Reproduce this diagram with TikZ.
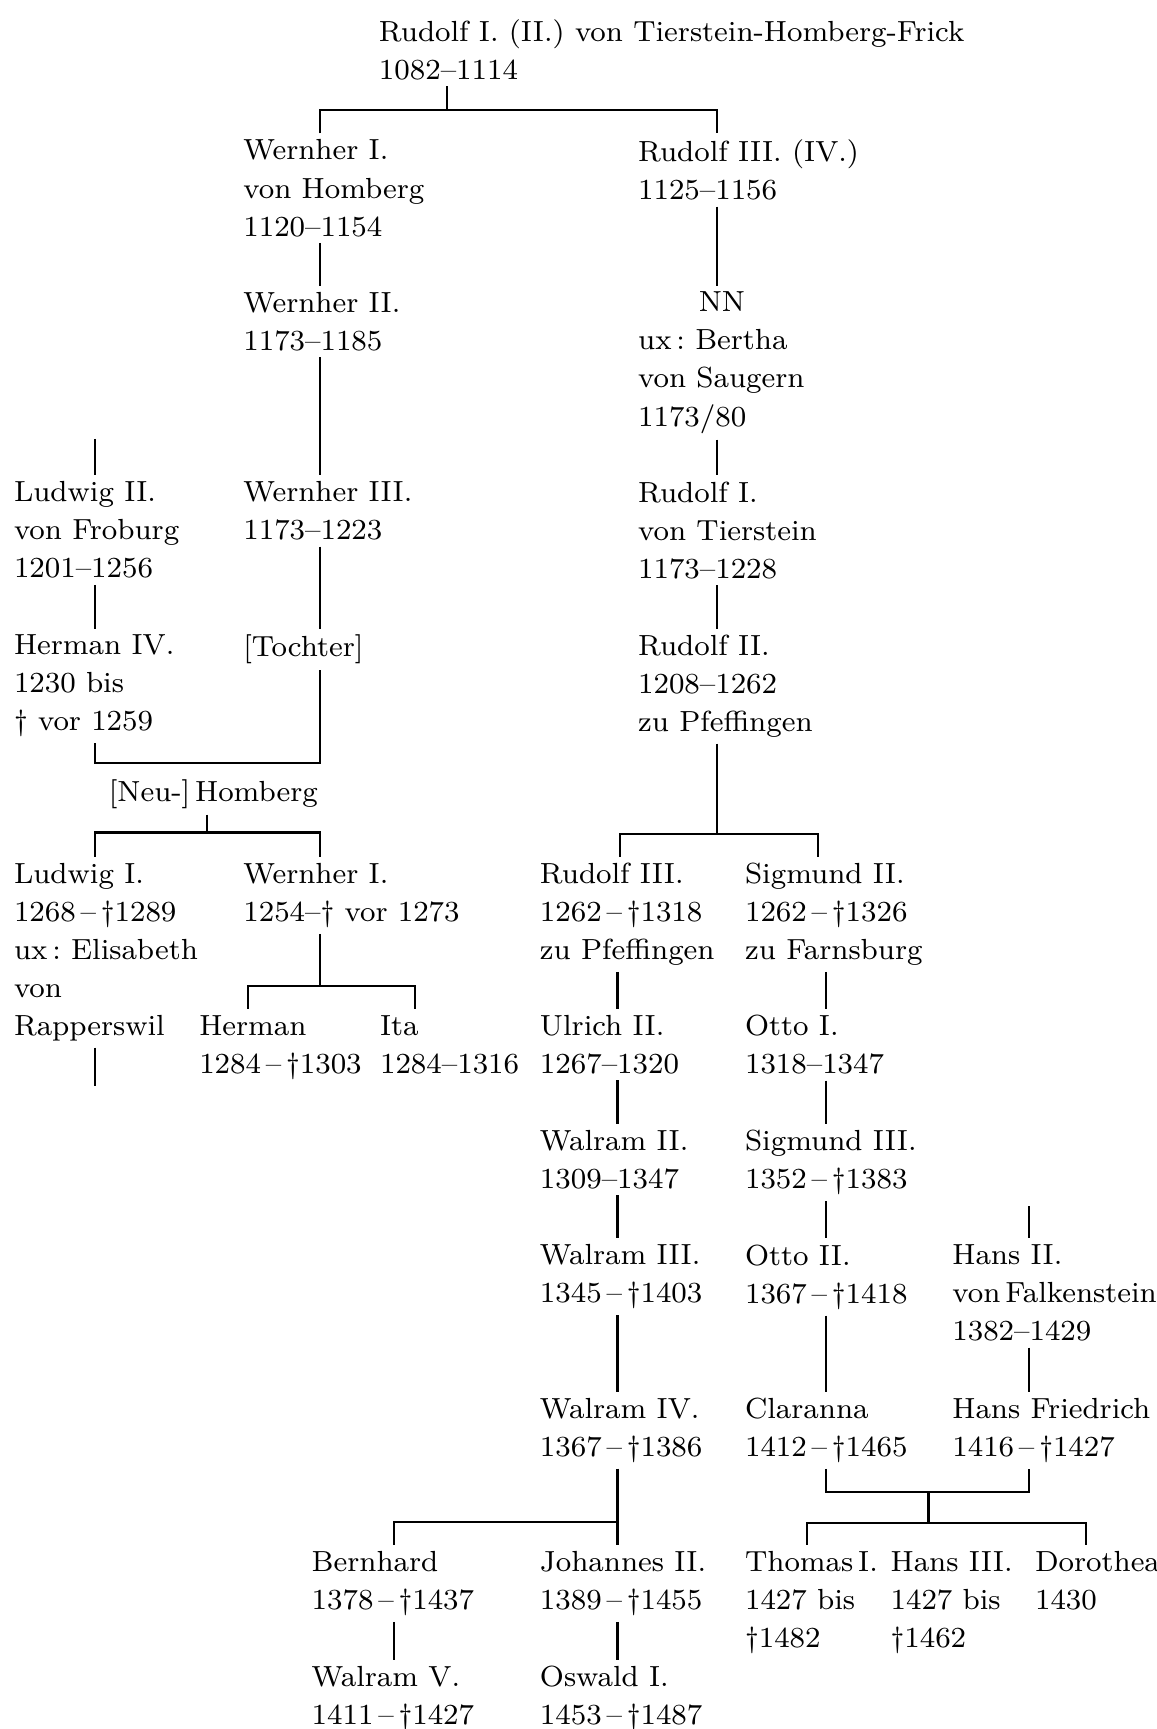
\documentclass[tikz,border=0pt]{standalone}
\usepackage{tikz}

\begin{document}
\begin{tikzpicture}[x=0.01cm, y=-0.01cm]
	\useasboundingbox (0,0) rectangle (1049,1568);
	\begin{scope}[every node/.style = {anchor=north west, align=left, inner xsep=0pt,
			inner ysep=0.05cm, font=\fontsize{7.5}{9.82}\selectfont\frenchspacing}]
		\node (top) at (343,12) {Rudolf I. (II.) von Tierstein-Homberg-Frick\\1082--1114};
		\node (wer1) at (220,121) {Wernher I.\\von Homberg\\1120--1154};
		\node (rud3) at (578,121) {Rudolf III. (IV.)\\1125--1156};
		\node (wer2) at (220,259) {Wernher II.\\1173--1185};
		\node (nn) at (578,259) {\hspace*{0.55cm}NN\\ux\,: Bertha\\von Saugern\\1173/80};
		\node (lud2) at (12,431) {Ludwig II.\\von Froburg\\1201--1256};
		\node (wer3) at (220,431) {Wernher III.\\1173--1223};
		\node (rud1) at (578,431) {Rudolf I.\\von Tierstein\\1173--1228};
		\node (her4) at (12,570) {Herman IV.\\1230 bis\\\dag{} vor 1259};
		\node (tochter) at (220,570) {[Tochter]};
		\node (rud2) at (578,570) {Rudolf II.\\1208--1262\\zu Pfeffingen};
		\node (neu) at (98,701) {[Neu-]\,Homberg};
		\node (lud1) at (12,777) {Ludwig I.\\1268\,--\,\dag1289\\ux\,: Elisabeth\\von\\Rapperswil};
		\node (wer1n) at (220,777) {Wernher I.\\1254--\dag{} vor 1273};
		\node (rud3n) at (489,777) {Rudolf III.\\1262\,--\,\dag1318\\zu Pfeffingen};
		\node (sig2) at (675,777) {Sigmund II.\\1262\,--\,\dag1326\\zu Farnsburg};
		\node (herman) at (180,915) {Herman\\1284\,--\,\dag1303};
		\node (ita) at (344,915) {Ita\\1284--1316};
		\node (ulr2) at (489,915) {Ulrich II.\\1267--1320};
		\node (otto1) at (675,915) {Otto I.\\1318--1347};
		\node (wal2) at (489,1019) {Walram II.\\1309--1347};
		\node (sig3) at (675,1019) {Sigmund III.\\1352\,--\,\dag1383};
		\node (wal3) at (489,1123) {Walram III.\\1345\,--\,\dag1403};
		\node (otto2) at (675,1123) {Otto II.\\1367\,--\,\dag1418};
		\node (hans2) at (863,1123) {Hans II.\\von\,Falkenstein\\1382--1429};
		\node (wal4) at (489,1262) {Walram IV.\\1367\,--\,\dag1386};
		\node (clara) at (675,1262) {Claranna\\1412\,--\,\dag1465};
		\node (hansf) at (863,1262) {Hans Friedrich\\1416\,--\,\dag1427};
		\node (bern) at (282,1401) {Bernhard\\1378\,--\,\dag1437};
		\node (joh2) at (489,1401) {Johannes II.\\1389\,--\,\dag1455};
		\node (thom) at (675,1401) {Thomas\,I.\\1427 bis\\\dag1482};
		\node (hans3) at (807,1401) {Hans III.\\1427 bis\\\dag1462};
		\node (doro) at (938,1401) {Dorothea\\1430};
		\node (wal5) at (282,1505) {Walram V.\\1411\,--\,\dag1427};
		\node (osw) at (489,1505) {Oswald I.\\1453\,--\,\dag1487};
	\end{scope}
	% columns of the vertical lines
	\coordinate (xA) at (86,0);
	\coordinate (xB) at (290,0);
	\coordinate (xC) at (560,0);
	\coordinate (xD) at (650,0);
	\coordinate (xE) at (749,0);
	\coordinate (xHans) at (933,0);
	\coordinate (xBern) at (357,0);
	\coordinate (xNeu) at (188,0);
	\coordinate (xHerman) at (225,0);
	\coordinate (xIta) at (376,0);
	\coordinate (xRud) at (562,0);
	\coordinate (xSig) at (742,0);
	\coordinate (xThom) at (732,0);
	\coordinate (xDoro) at (985,0);
	% bars and free ends
	\coordinate (barTop) at (405,100);
	\coordinate (barToch) at (188,692);
	\coordinate (barNeu) at (188,755);
	\coordinate (barRud) at (650,756);
	\coordinate (barWer) at (290,894);
	\coordinate (barWal) at (560,1380);
	\coordinate (barCla) at (842,1353);
	\coordinate (barKids) at (842,1381);
	\coordinate (lud2up) at (86,398);
	\coordinate (lud1down) at (86,985);
	\coordinate (hans2up) at (933,1094);
	\begin{scope}[every edge/.style={draw=black, line width=0.55pt}, line width=0.55pt]
		\path [-] (top.south -| barTop) edge (barTop);
		\draw (wer1.north -| xB) |- (barTop) -| (rud3.north -| xD);
		\path [-] (wer1.south -| xB) edge (wer2.north -| xB);
		\path [-] (rud3.south -| xD) edge (nn.north -| xD);
		\path [-] (wer2.south -| xB) edge (wer3.north -| xB);
		\path [-] (nn.south -| xD) edge (rud1.north -| xD);
		\path [-] (lud2up) edge (lud2.north -| xA);
		\path [-] (lud2.south -| xA) edge (her4.north -| xA);
		\path [-] (wer3.south -| xB) edge (tochter.north -| xB);
		\path [-] (rud1.south -| xD) edge (rud2.north -| xD);
		\draw (her4.south -| xA) |- (barToch) -| (tochter.south -| xB);
		\path [-] (neu.south -| xNeu) edge (barNeu);
		\draw (lud1.north -| xA) |- (barNeu) -| (wer1n.north -| xB);
		\path [-] (rud2.south -| xD) edge (barRud);
		\draw (rud3n.north -| xRud) |- (barRud) -| (sig2.north -| xSig);
		\path [-] (wer1n.south -| xB) edge (barWer);
		\draw (herman.north -| xHerman) |- (barWer) -| (ita.north -| xIta);
		\path [-] (lud1.south -| xA) edge (lud1down);
		\path [-] (rud3n.south -| xC) edge (ulr2.north -| xC);
		\path [-] (sig2.south -| xE) edge (otto1.north -| xE);
		\path [-] (ulr2.south -| xC) edge (wal2.north -| xC);
		\path [-] (otto1.south -| xE) edge (sig3.north -| xE);
		\path [-] (wal2.south -| xC) edge (wal3.north -| xC);
		\path [-] (sig3.south -| xE) edge (otto2.north -| xE);
		\path [-] (hans2up) edge (hans2.north -| xHans);
		\path [-] (wal3.south -| xC) edge (wal4.north -| xC);
		\path [-] (otto2.south -| xE) edge (clara.north -| xE);
		\path [-] (hans2.south -| xHans) edge (hansf.north -| xHans);
		\path [-] (wal4.south -| xC) edge (joh2.north -| xC);
		\draw (bern.north -| xBern) |- (barWal);
		\draw (clara.south -| xE) |- (barCla) -| (hansf.south -| xHans);
		\path [-] (barCla) edge (barKids);
		\draw (thom.north -| xThom) |- (barKids) -| (doro.north -| xDoro);
		\path [-] (bern.south -| xBern) edge (wal5.north -| xBern);
		\path [-] (joh2.south -| xC) edge (osw.north -| xC);
	\end{scope}
\end{tikzpicture}
\end{document}
